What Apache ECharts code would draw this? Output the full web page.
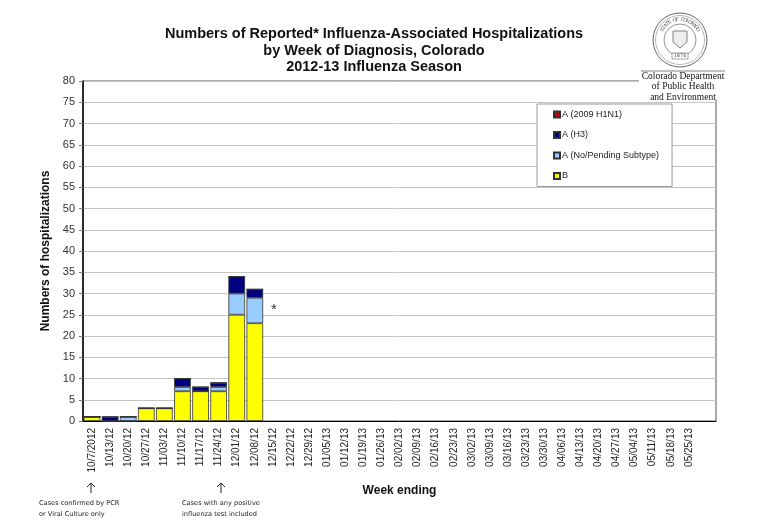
<!DOCTYPE html>
<html>
<head>
<meta charset="utf-8">
<script src="https://cdn.jsdelivr.net/npm/echarts@6/dist/echarts.min.js"></script>
<style>
  html, body { margin: 0; padding: 0; background: #fff; }
  #chart { width: 767px; height: 527px; }
</style>
</head>
<body>
<div id="chart"></div>
<script>
// week ending labels (last slot is an empty category, as in the original)
const weeks = ['10/7/2012', '10/13/12', '10/20/12', '10/27/12', '11/03/12', '11/10/12', '11/17/12',
    '11/24/12', '12/01/12', '12/08/12', '12/15/12', '12/22/12', '12/29/12', '01/05/13', '01/12/13',
    '01/19/13', '01/26/13', '02/02/13', '02/09/13', '02/16/13', '02/23/13', '03/02/13', '03/09/13',
    '03/16/13', '03/23/13', '03/30/13', '04/06/13', '04/13/13', '04/20/13', '04/27/13', '05/04/13',
    '05/11/13', '05/18/13', '05/25/13', ''];

// reported weeks only, later weeks have no data yet
const fluB =       [1, 0, 0, 3, 3, 7, 7, 7, 25, 23];
const noSubtype =  [0, 0, 1, 0, 0, 1, 0, 1, 5, 6];
const h3 =         [0, 1, 0, 0, 0, 2, 1, 1, 4, 2];
const h1n1 =       [0, 0, 0, 0, 0, 0, 0, 0, 0, 0];

const yTicks = { min: 0, max: 80, interval: 5 };

const chartDom = document.getElementById('chart');
const fluChart = echarts.init(chartDom);
let option;

const font = 'Liberation Sans, Arial, sans-serif';

function makeSeries(name, values, color) {
    return {
        name: name,
        type: 'bar',
        stack: 'total',
        data: values,
        barCategoryGap: '8%',
        itemStyle: {
            color: color,
            borderColor: '#333',
            borderWidth: 0.8,
        },
        emphasis: { disabled: true },
    };
}

// seal lettering round the top of the circle
const sealText = 'STATE OF COLORADO';
const sealCx = 680, sealCy = 40;
let sealLetters = [];
for (let i = 0; i < sealText.length; i++) {
    let phi = (150 - i * 120 / (sealText.length - 1)) * Math.PI / 180;
    sealLetters.push({
        type: 'text',
        x: sealCx + 20.5 * Math.cos(phi),
        y: sealCy - 20.5 * Math.sin(phi),
        rotation: phi - Math.PI / 2,
        style: {
            text: sealText[i],
            font: '5px DejaVu Serif',
            fill: '#555',
            align: 'center',
            verticalAlign: 'middle',
        },
        z: 102,
    });
}

option = {
    animation: false,
    backgroundColor: '#fff',
    title: {
        text: 'Numbers of Reported* Influenza-Associated Hospitalizations\nby Week of Diagnosis, Colorado\n2012-13 Influenza Season',
        left: 369,
        top: 21,
        textAlign: 'center',
        textStyle: {
            fontFamily: font,
            fontWeight: 'bold',
            fontSize: 14.5,
            lineHeight: 16.5,
            color: '#111',
        },
    },
    grid: {
        left: 83,
        right: 51,
        top: 81,
        bottom: 106,
        show: true,
        borderColor: '#555',
        borderWidth: 1,
    },
    legend: {
        orient: 'vertical',
        left: 537,
        top: 104,
        data: ['A (2009 H1N1)', 'A (H3)', 'A (No/Pending Subtype)', 'B'],
        icon: 'rect',
        itemWidth: 6,
        itemHeight: 6,
        itemGap: 9.5,
        padding: [5, 13, 5, 16],
        backgroundColor: '#fff',
        borderColor: '#999',
        borderWidth: 1,
        selectedMode: false,
        textStyle: {
            fontFamily: font,
            fontSize: 9,
            lineHeight: 11,
            color: '#222',
            padding: [0, 0, 0, -3],
        },
    },
    xAxis: {
        type: 'category',
        data: weeks,
        name: 'Week ending',
        nameLocation: 'middle',
        nameGap: 64,
        nameTextStyle: {
            fontFamily: font,
            fontWeight: 'bold',
            fontSize: 12,
            color: '#111',
        },
        axisLine: { lineStyle: { color: '#000', width: 1 } },
        axisTick: { length: 4, lineStyle: { color: '#444' } },
        axisLabel: {
            rotate: 90,
            interval: 0,
            margin: 7,
            fontFamily: font,
            fontSize: 10,
            color: '#222',
        },
    },
    yAxis: {
        type: 'value',
        min: yTicks.min,
        max: yTicks.max,
        interval: yTicks.interval,
        name: 'Numbers of hospitalizations',
        nameLocation: 'middle',
        nameGap: 24,
        nameTextStyle: {
            fontFamily: font,
            fontWeight: 'bold',
            fontSize: 12,
            color: '#111',
        },
        axisLine: { show: true, lineStyle: { color: '#000', width: 1.5 } },
        axisTick: { show: true, length: 4, lineStyle: { color: '#777' } },
        axisLabel: {
            margin: 8,
            fontFamily: font,
            fontSize: 11,
            color: '#333',
        },
        splitLine: { lineStyle: { color: '#c4c4c4', width: 1 } },
    },
    series: [
        makeSeries('B', fluB, '#ffff00'),
        makeSeries('A (No/Pending Subtype)', noSubtype, '#99ccff'),
        makeSeries('A (H3)', h3, '#000080'),
        makeSeries('A (2009 H1N1)', h1n1, '#cc0000'),
    ],
    graphic: [
        // asterisk next to the latest week
        {
            type: 'text', left: 271, top: 302,
            style: { text: '*', font: '15px Liberation Sans', fill: '#333' },
        },
        // arrows and notes under the axis
        {
            type: 'polyline', shape: { points: [[91, 493], [91, 483]] },
            style: { stroke: '#222', lineWidth: 1, fill: null },
        },
        {
            type: 'polyline', shape: { points: [[87, 487], [91, 483], [95, 487]] },
            style: { stroke: '#222', lineWidth: 1, fill: null },
        },
        {
            type: 'polyline', shape: { points: [[221, 493], [221, 483]] },
            style: { stroke: '#222', lineWidth: 1, fill: null },
        },
        {
            type: 'polyline', shape: { points: [[217, 487], [221, 483], [225, 487]] },
            style: { stroke: '#222', lineWidth: 1, fill: null },
        },
        {
            type: 'text', left: 39, top: 498,
            style: {
                text: 'Cases confirmed by PCR\nor Viral Culture only',
                font: '6.6px DejaVu Sans', lineHeight: 11, fill: '#222',
            },
        },
        {
            type: 'text', left: 182, top: 498,
            style: {
                text: 'Cases with any positive\ninfluenza test included',
                font: '6.6px DejaVu Sans', lineHeight: 11, fill: '#222',
            },
        },
        // department logo in the top right corner
        {
            type: 'rect', shape: { x: 639, y: 6, width: 95, height: 94 },
            style: { fill: '#fff' }, z: 100,
        },
        {
            type: 'circle', shape: { cx: sealCx, cy: sealCy, r: 27 },
            style: { fill: '#fff', stroke: '#666', lineWidth: 1 }, z: 101,
        },
        {
            type: 'circle', shape: { cx: sealCx, cy: sealCy, r: 24.5 },
            style: { fill: null, stroke: '#888', lineWidth: 0.6 }, z: 101,
        },
        {
            type: 'circle', shape: { cx: sealCx, cy: sealCy, r: 16 },
            style: { fill: null, stroke: '#777', lineWidth: 0.8 }, z: 101,
        },
        {
            type: 'polygon', shape: { points: [[673, 31], [687, 31], [687, 42], [680, 48], [673, 42]] },
            style: { fill: '#eee', stroke: '#666', lineWidth: 0.8 }, z: 101,
        },
        {
            type: 'rect', shape: { x: 672, y: 53, width: 16, height: 6 },
            style: { fill: '#fff', stroke: '#666', lineWidth: 0.6 }, z: 101,
        },
        {
            type: 'text', x: 680, y: 56,
            style: { text: '1876', font: '5px DejaVu Serif', fill: '#444', align: 'center', verticalAlign: 'middle' },
            z: 102,
        },
        ...sealLetters,
        {
            type: 'line', shape: { x1: 641, y1: 71, x2: 725, y2: 71 },
            style: { stroke: '#666', lineWidth: 0.8 }, z: 101,
        },
        {
            type: 'text', x: 683, y: 71,
            style: {
                text: 'Colorado Department\nof Public Health\nand Environment',
                font: '9.5px Liberation Serif', lineHeight: 10.5, fill: '#111', align: 'center',
            },
            z: 101,
        },
    ],
};

option && fluChart.setOption(option);
</script>
</body>
</html>
